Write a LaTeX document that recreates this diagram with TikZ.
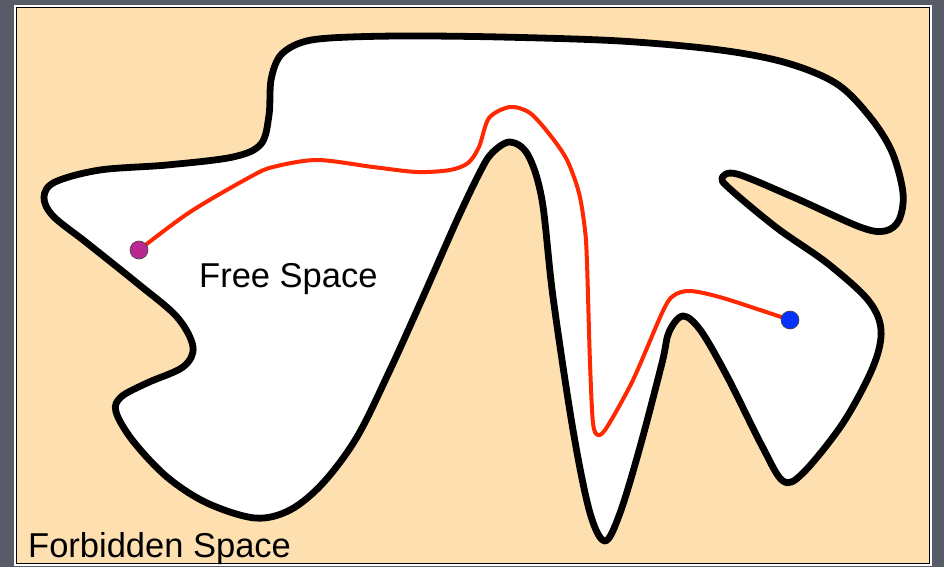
\documentclass[tikz,border=0pt]{standalone}
\usepackage{fontspec}
\setmainfont{Liberation Sans}
\usepackage{tikz}
\definecolor{slate}{RGB}{88,92,104}
\definecolor{forbid}{RGB}{254,224,176}
\definecolor{routered}{RGB}{255,40,0}
\definecolor{startpink}{RGB}{185,40,145}
\definecolor{goalblue}{RGB}{10,50,255}

\begin{document}
\begin{tikzpicture}[x=1pt, y=-1pt,
  wall/.style={draw=black, line width=6.8pt, fill=white, line join=round},
  route/.style={draw=routered, line width=4pt, line cap=round, line join=round},
  dot/.style={circle, draw=black!75, line width=0.6pt, minimum size=18pt, inner sep=0pt},
  lbl/.style={font=\fontsize{34.5}{40}\selectfont, inner sep=0pt, anchor=base west}
]
  \fill[slate] (0,0) rectangle (944,567);
  \useasboundingbox (0,0) rectangle (944,567);
  \fill[white] (14,5) rectangle (932,565.5);
  \filldraw[fill=forbid, draw=black, line width=1pt] (16.5,7.5) rectangle (929.5,563);

  \draw[wall] plot[smooth cycle, tension=0.55] coordinates {
    (44,197) (55,182) (100,170) (167,165) (233,157) (261,144) (269,115)
    (271,80) (280,56) (300,43) (330,38) (400,36) (500,37) (620,41)
    (720,50) (787,63) (837,84) (870,117) (892,152) (903,193) (899,220)
    (885,231) (860,227) (793,197) (737,174) (722,178) (730,189) (777,228)
    (827,263) (868,300) (881,330) (873,367) (843,423) (803,473) (783,481)
    (762,446) (728,378) (701,331) (683,316) (669,332) (662,363) (640,447)
    (620,513) (605,541) (590,513) (573,430) (553,297) (542,200) (528,155)
    (510,142) (492,153) (480,172) (457,220) (423,297) (390,370) (357,437)
    (323,483) (290,510) (255,518) (207,503) (167,477) (133,441) (116,412)
    (121,397) (147,383) (183,367) (193,347) (177,317) (137,283) (87,243)
    (53,216)};

  \coordinate (start) at (139,250);
  \coordinate (goal) at (790,320);
  \draw[route] plot[smooth, tension=0.5] coordinates {
    (start) (190,212) (250,177) (273,167) (317,160) (373,167) (417,172)
    (450,170) (468,163) (479,147) (489,118) (510,107) (530,113) (550,135)
    (567,160) (579,193) (585,230) (587,263) (590,363) (593,423) (598,435)
    (607,427) (633,380) (662,313) (673,296) (690,291) (723,298) (goal)};

  \node[dot, fill=startpink] (startpt) at (start) {};
  \node[dot, fill=goalblue] (goalpt) at (goal) {};

  \node[lbl] (free) at (199,287) {Free Space};
  \node[lbl] (forbidden) at (28,557) {Forbidden Space};
\end{tikzpicture}
\end{document}
